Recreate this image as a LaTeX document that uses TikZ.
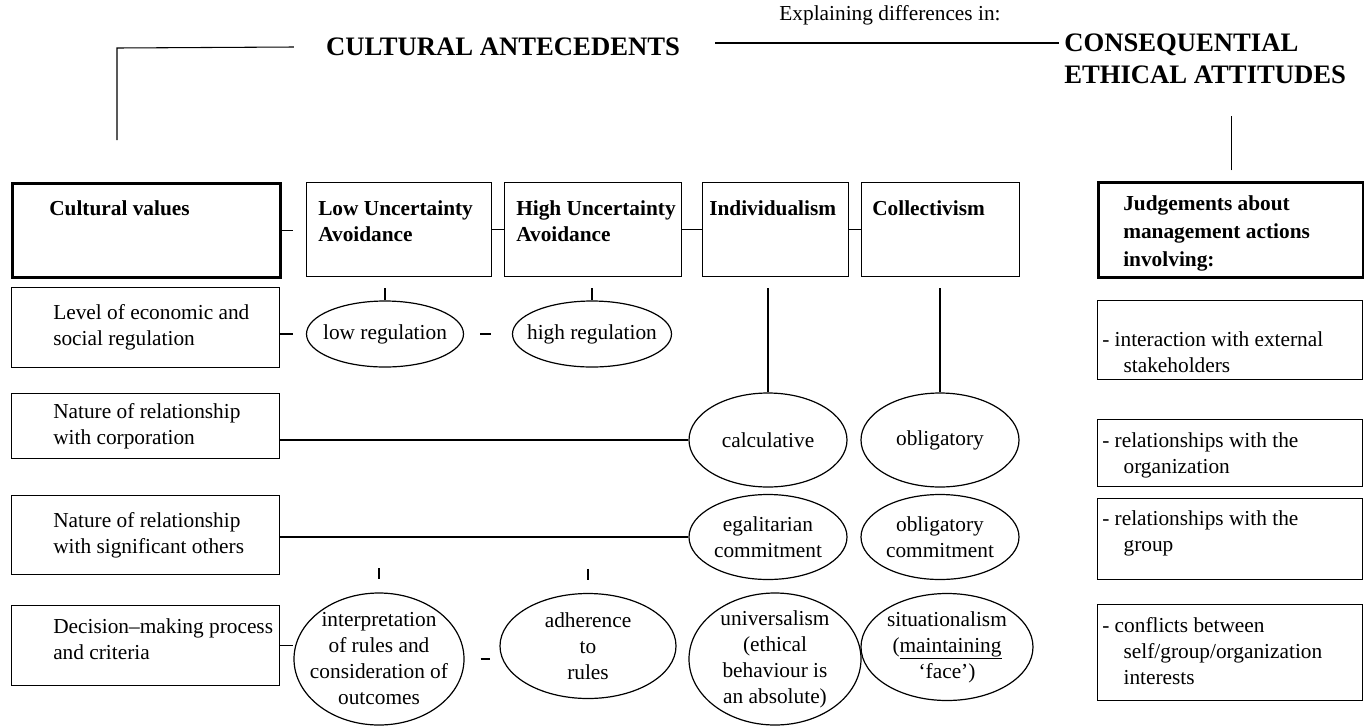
\documentclass[tikz,border=0pt]{standalone}
\usepackage{fontspec}
\setmainfont{Liberation Serif}
\usetikzlibrary{shapes.geometric}
\newcommand\bodysize{\fontsize{16}{19.5}\selectfont}
\newcommand\titlesize{\fontsize{20}{24}\selectfont\bfseries}
\tikzset{
	box/.style={draw,line width=1pt,anchor=north west,inner sep=0pt},
	thickbox/.style={box,line width=2.6pt},
	oval/.style={draw,ellipse,line width=0.9pt,inner sep=-15pt,align=center,font=\bodysize},
	txt/.style={inner sep=0pt,align=left,font=\bodysize},
	head/.style={txt,font=\bodysize\bfseries},
	link/.style={line width=0.8pt}
}
\begin{document}
\begin{tikzpicture}[x=0.75pt,y=-0.75pt]
\useasboundingbox (0,0) rectangle (1364,726);

\node[inner sep=0pt,font=\titlesize] (ante) at (503,47) {CULTURAL ANTECEDENTS};
\node[inner sep=0pt,align=left,anchor=north west,font=\titlesize] (conseq) at (1064,34) {CONSEQUENTIAL\\ETHICAL ATTITUDES};
\node[txt] (expl) at (890,15) {Explaining differences in:};
\coordinate (lcorner) at (117,48);
\coordinate (mid) at (715,43);

\node[thickbox,minimum width=201pt,minimum height=70.5pt] (cv) at (11,182) {};
\node[box,minimum width=138.75pt,minimum height=70.5pt] (lua) at (306,182) {};
\node[box,minimum width=132.75pt,minimum height=70.5pt] (hua) at (504,182) {};
\node[box,minimum width=109.5pt,minimum height=70.5pt] (ind) at (702,182) {};
\node[box,minimum width=118.5pt,minimum height=70.5pt] (col) at (861,182) {};
\node[thickbox,minimum width=198.75pt,minimum height=71.25pt] (judg) at (1097,181) {};

\node[head,anchor=north west] (cv-t) at ([shift={(38,18)}]cv.north west) {Cultural values};
\node[head,anchor=north west] (lua-t) at ([shift={(12,18)}]lua.north west) {Low Uncertainty\\Avoidance};
\node[head,anchor=north west] (hua-t) at ([shift={(12,18)}]hua.north west) {High Uncertainty\\Avoidance};
\node[head,anchor=north west] (ind-t) at ([shift={(7,18)}]ind.north west) {Individualism};
\node[head,anchor=north west] (col-t) at ([shift={(11,18)}]col.north west) {Collectivism};
\node[head,anchor=west,font=\fontsize{16}{21}\selectfont\bfseries] (judg-t) at ([shift={(26,3)}]judg.west) {Judgements about\\management actions\\involving:};

\node[box,minimum width=201pt,minimum height=60pt] (lvl) at (11,287) {};
\node[box,minimum width=201pt,minimum height=48.75pt] (ncorp) at (11,393) {};
\node[box,minimum width=201pt,minimum height=59.25pt] (nsig) at (11,495) {};
\node[box,minimum width=201pt,minimum height=60pt] (dec) at (11,605) {};

\node[txt,anchor=west] (lvl-t) at ([xshift=31.5pt]lvl.west) {Level of economic and\\social regulation};
\node[txt,anchor=west] (ncorp-t) at ([xshift=31.5pt]ncorp.west) {Nature of relationship\\with corporation};
\node[txt,anchor=west] (nsig-t) at ([xshift=31.5pt]nsig.west) {Nature of relationship\\with significant others};
\node[txt,anchor=west] (dec-t) at ([shift={(42,-6)}]dec.west) {Decision--making process\\and criteria};

\node[box,minimum width=198.75pt,minimum height=59.25pt] (inter) at (1097,300) {};
\node[box,minimum width=198.75pt,minimum height=50.25pt] (org) at (1097,419) {};
\node[box,minimum width=198.75pt,minimum height=60.75pt] (grp) at (1097,498) {};
\node[box,minimum width=198.75pt,minimum height=72pt] (conf) at (1097,604) {};

\node[txt,anchor=west] (inter-t) at ([shift={(5,12)}]inter.west) {- interaction with external\\\hspace*{1em}stakeholders};
\node[txt,anchor=west] (org-t) at ([shift={(5,2)}]org.west) {- relationships with the\\\hspace*{1em}organization};
\node[txt,anchor=west] (grp-t) at ([shift={(5,-6)}]grp.west) {- relationships with the\\\hspace*{1em}group};
\node[txt,anchor=west] (conf-t) at ([shift={(5,-2)}]conf.west) {- conflicts between\\\hspace*{1em}self/group/organization\\\hspace*{1em}interests};

\node[oval,minimum width=117.75pt,minimum height=49.5pt] (lowreg) at (385,334) {low regulation};
\node[oval,minimum width=119.25pt,minimum height=49.5pt] (highreg) at (592,334) {high regulation};
\node[oval,minimum width=118.5pt,minimum height=70.5pt] (calc) at (768,440) {calculative};
\node[oval,minimum width=118.5pt,minimum height=70.5pt] (oblig) at (940,440) {obligatory};
\node[oval,minimum width=118.5pt,minimum height=63.75pt] (egal) at (768,537) {egalitarian\\commitment};
\node[oval,minimum width=118.5pt,minimum height=63.75pt] (oblc) at (940,537) {obligatory\\commitment};
\node[oval,minimum width=127.5pt,minimum height=99pt] (interp) at (379,659) {interpretation\\of rules and\\consideration of\\outcomes};
\node[oval,minimum width=132pt,minimum height=78.75pt] (adher) at (588,646) {adherence\\to\\rules};
\node[oval,minimum width=129pt,minimum height=99pt] (univ) at (775,659) {universalism\\(ethical\\behaviour is\\an absolute)};
\node[oval,minimum width=129pt,minimum height=80.25pt] (situ) at (947,647) {situationalism\\(\underline{maintaining}\\`face')};

\draw[link,shorten >=31.5pt] ([xshift=-24pt]ante.west) -- (lcorner) -- (lcorner |- cv.north);
\draw[link,shorten >=4pt] (mid) -- (mid -| conseq.west);
\draw[link] ([yshift=8pt]judg.north) -- ([yshift=49pt]judg.north);

\draw[link,shorten >=10pt] (cv.east) -- (cv.east -| lua.west);
\draw[link] (lua.east) -- (hua.west);
\draw[link] (hua.east) -- (ind.west);
\draw[link] (ind.east) -- (col.west);

\draw[link] ([yshift=-8pt]lua.south -| lowreg.north) -- (lowreg.north);
\draw[link] ([yshift=-8pt]hua.south -| highreg.north) -- (highreg.north);
\draw[link] ([yshift=-8pt]ind.south -| calc.north) -- (calc.north);
\draw[link] ([yshift=-8pt]col.south -| oblig.north) -- (oblig.north);

\draw[link,shorten >=10pt] (lowreg.west -| lvl.east) -- (lowreg.west);
\draw[link,shorten <=12pt,shorten >=16pt] (lowreg.east) -- (highreg.west);
\draw[link] (calc.west -| ncorp.east) -- (calc.west);
\draw[link] (egal.west -| nsig.east) -- (egal.west);

\draw[link] ([yshift=18pt]interp.north) -- ([yshift=10pt]interp.north);
\draw[link] ([yshift=18pt]adher.north) -- ([yshift=10pt]adher.north);
\draw[link] (dec.east) -- (dec.east -| interp.west);
\draw[link,shorten <=12pt,shorten >=7pt] (interp.east) -- (interp.east -| adher.west);
\end{tikzpicture}
\end{document}
